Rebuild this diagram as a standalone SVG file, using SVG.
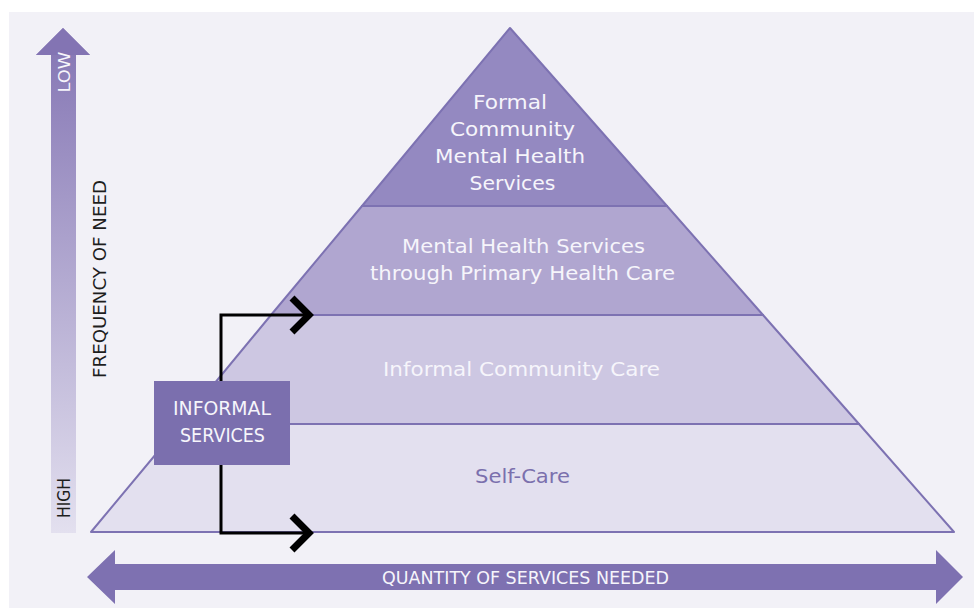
<svg xmlns="http://www.w3.org/2000/svg" width="974" height="608" viewBox="0 0 974 608">
<style>
.band{stroke:#7d72b2;stroke-width:2;stroke-linejoin:round}
.lbl{font-family:"DejaVu Sans","Liberation Sans",Arial,sans-serif;text-anchor:middle}
.w{fill:#f6f5fb}
.conn{fill:none;stroke:#000;stroke-width:3}
.chev{fill:none;stroke:#000;stroke-width:7;stroke-linejoin:miter}
</style>
<defs>
<linearGradient id="vg" x1="0" y1="0" x2="0" y2="1">
<stop offset="0" stop-color="#8374b3"/>
<stop offset="1" stop-color="#e3e0ef"/>
</linearGradient>
</defs>
<rect width="974" height="608" fill="#ffffff"/>
<rect x="9" y="12" width="965" height="596" fill="#f2f1f7"/>

<g id="freq-axis">
<polygon points="63,28 90,55 76,55 76,533 51,533 51,55 36,55" fill="url(#vg)"/>
<polygon points="63,28 90,55 36,55" fill="#8374b3"/>
<text class="lbl" transform="translate(69.5,72) rotate(-90)" font-size="16" fill="#f6f5fb" textLength="41" lengthAdjust="spacingAndGlyphs">LOW</text>
<text class="lbl" transform="translate(70,498) rotate(-90)" font-size="17" fill="#1e1e1e" textLength="40" lengthAdjust="spacingAndGlyphs">HIGH</text>
<text class="lbl" transform="translate(106,279) rotate(-90)" font-size="17" fill="#1e1e1e" textLength="198" lengthAdjust="spacingAndGlyphs">FREQUENCY OF NEED</text>
</g>

<g id="quantity-axis">
<polygon points="87,577 115,550 115,564 936,564 936,550 963,577 936,604 936,590 115,590 115,604" fill="#7e71b1"/>
<text class="lbl w" x="525.5" y="583.5" font-size="17.5" textLength="287" lengthAdjust="spacingAndGlyphs">QUANTITY OF SERVICES NEEDED</text>
</g>

<g id="self-care">
<polygon class="band" points="181,424 859,424 954,532 91,532" fill="#e3e0ef"/>
<text class="lbl" x="522.5" y="483" font-size="20" fill="#7b70ad" textLength="95" lengthAdjust="spacingAndGlyphs">Self-Care</text>
</g>

<g id="informal-community-care">
<polygon class="band" points="271,315 763,315 859,424 181,424" fill="#cdc7e2"/>
<text class="lbl w" x="521.5" y="376" font-size="20" textLength="277" lengthAdjust="spacingAndGlyphs">Informal Community Care</text>
</g>

<g id="primary-health-care">
<polygon class="band" points="362,206 667,206 763,315 271,315" fill="#b0a6d0"/>
<text class="lbl w" x="523.5" y="253" font-size="20" textLength="243" lengthAdjust="spacingAndGlyphs">Mental Health Services</text>
<text class="lbl w" x="522.5" y="280" font-size="20" textLength="305" lengthAdjust="spacingAndGlyphs">through Primary Health Care</text>
</g>

<g id="formal-services">
<polygon class="band" points="510,28 667,206 362,206" fill="#9489c1"/>
<text class="lbl w" x="510" y="109" font-size="20" textLength="74" lengthAdjust="spacingAndGlyphs">Formal</text>
<text class="lbl w" x="512.5" y="136" font-size="20" textLength="125" lengthAdjust="spacingAndGlyphs">Community</text>
<text class="lbl w" x="510" y="163" font-size="20" textLength="150" lengthAdjust="spacingAndGlyphs">Mental Health</text>
<text class="lbl w" x="512.5" y="190" font-size="20" textLength="86" lengthAdjust="spacingAndGlyphs">Services</text>
</g>

<g id="connectors">
<polyline class="conn" points="221,381 221,315 308,315"/>
<polyline class="chev" points="292,298 309,315 292,332"/>
<polyline class="conn" points="221,465 221,533 308,533"/>
<polyline class="chev" points="292,516 309,533 292,550"/>
</g>

<g id="informal-services">
<rect x="154" y="381" width="136" height="84" fill="#7b6fae"/>
<text class="lbl w" x="222" y="415" font-size="20" textLength="98" lengthAdjust="spacingAndGlyphs">INFORMAL</text>
<text class="lbl w" x="222.5" y="442" font-size="20" textLength="85" lengthAdjust="spacingAndGlyphs">SERVICES</text>
</g>
</svg>
